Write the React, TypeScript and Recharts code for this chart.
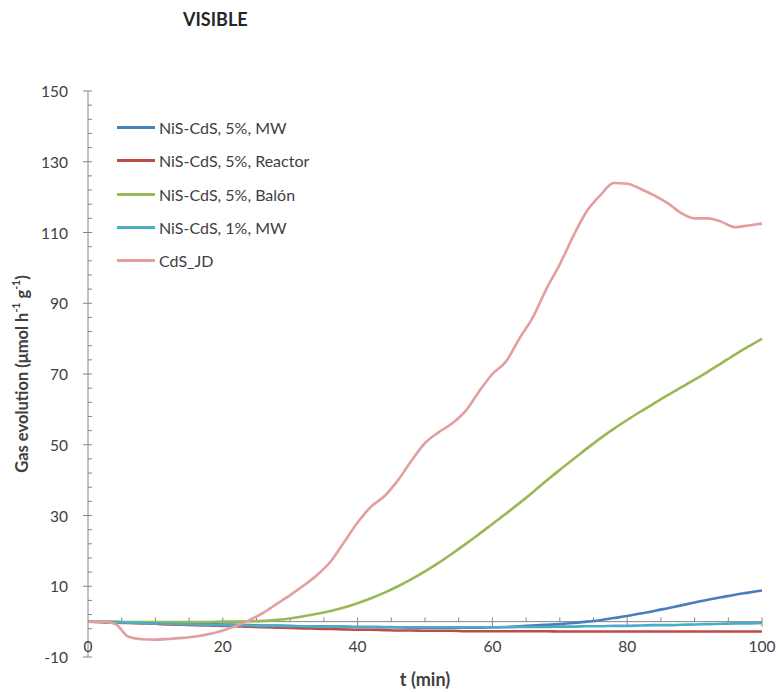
import React from 'react';
import { LineChart, Line, XAxis, YAxis, ReferenceLine, Legend } from 'recharts';

const times = [
  0, 2, 4, 6, 8, 10, 12, 14, 16, 18, 20, 22, 24, 26, 28, 30, 32, 34, 36, 38, 40, 42, 44, 46, 48, 50,
  52, 54, 56, 58, 60, 62, 64, 66, 68, 70, 72, 74, 76, 78, 80, 82, 84, 86, 88, 90, 92, 94, 96, 98, 100
];

const nisMw5 = [
  0, -0.1, -0.2, -0.2, -0.3, -0.3, -0.4, -0.5, -0.6, -0.7, -0.8, -0.9, -1.0, -1.1, -1.1, -1.2, -1.3,
  -1.3, -1.4, -1.4, -1.5, -1.5, -1.6, -1.6, -1.7, -1.7, -1.7, -1.7, -1.7, -1.7, -1.6, -1.5, -1.3,
  -1.1, -0.9, -0.7, -0.4, 0, 0.4, 1.0, 1.6, 2.3, 3.0, 3.8, 4.6, 5.4, 6.2, 6.9, 7.6, 8.2, 8.8
];

const nisReactor5 = [
  0, -0.1, -0.3, -0.4, -0.5, -0.6, -0.8, -0.9, -1.0, -1.1, -1.2, -1.3, -1.4, -1.6, -1.7, -1.8, -1.9,
  -2.0, -2.1, -2.2, -2.3, -2.3, -2.4, -2.5, -2.5, -2.6, -2.6, -2.6, -2.7, -2.7, -2.7, -2.7, -2.7,
  -2.7, -2.7, -2.8, -2.8, -2.8, -2.8, -2.8, -2.8, -2.8, -2.8, -2.8, -2.8, -2.8, -2.8, -2.8, -2.8,
  -2.8, -2.8
];

const nisBalon5 = [
  0, 0, 0, -0.1, -0.1, -0.1, -0.1, -0.1, -0.1, -0.1, 0, 0, 0.1, 0.2, 0.5, 0.9, 1.5, 2.2, 3.0, 4.0,
  5.2, 6.6, 8.2, 10.0, 12.0, 14.2, 16.6, 19.2, 21.9, 24.7, 27.6, 30.5, 33.5, 36.6, 39.8, 42.9, 45.9,
  48.9, 51.8, 54.5, 57.0, 59.4, 61.7, 64.0, 66.2, 68.4, 70.7, 73.1, 75.5, 77.8, 80.0
];

const nisMw1 = [
  0, -0.1, -0.2, -0.3, -0.4, -0.5, -0.6, -0.7, -0.8, -0.9, -1.0, -1.0, -1.1, -1.2, -1.2, -1.3, -1.3,
  -1.4, -1.4, -1.5, -1.5, -1.5, -1.5, -1.6, -1.6, -1.6, -1.6, -1.6, -1.6, -1.6, -1.6, -1.6, -1.5,
  -1.5, -1.5, -1.4, -1.4, -1.3, -1.3, -1.2, -1.2, -1.1, -1.0, -1.0, -0.9, -0.8, -0.7, -0.6, -0.5,
  -0.5, -0.4
];

const cdsJd = [
  0, 0, -0.6, -4.3, -5.0, -5.1, -4.9, -4.6, -4.2, -3.5, -2.5, -1.2, 0.5, 2.5, 5.0, 7.5, 10.2, 13.2,
  17.0, 22.5, 28.0, 32.5, 35.5, 40.0, 45.5, 50.5, 53.5, 56.0, 59.5, 65.0, 70.0, 73.5, 80.0, 86.0,
  94.0, 101.0, 109.0, 116.0, 120.5, 124.0, 123.8, 122.3, 120.5, 118.3, 115.5, 114.0, 114.0, 113.0,
  111.5, 112.0, 112.5
];

const seriesNames = [
  'NiS-CdS, 5%, MW',
  'NiS-CdS, 5%, Reactor',
  'NiS-CdS, 5%, Balón',
  'NiS-CdS, 1%, MW',
  'CdS_JD'
];
const seriesColors = ['#4A7EBB', '#BE4B48', '#98B954', '#4BACC6', '#E39E9E'];
const seriesKeys = ['mw5', 'reactor5', 'balon5', 'mw1', 'cds'];

const xTicks = [0, 20, 40, 60, 80, 100];
const xMinorTicks = [5, 10, 15, 20, 25, 30, 35, 40, 45, 50, 55, 60, 65, 70, 75, 80, 85, 90, 95, 100];
const yMajorTicks = [-10, 10, 30, 50, 70, 90, 110, 130, 150];
const yAllTicks: number[] = [];
for (let v = -10; v <= 150; v += 4) yAllTicks.push(v);

const data = times.map((t, i) => ({
  t,
  mw5: nisMw5[i],
  reactor5: nisReactor5[i],
  balon5: nisBalon5[i],
  mw1: nisMw1[i],
  cds: cdsJd[i]
}));

const FONT = 'Lato, "Open Sans", sans-serif';
const AXIS = '#868686';
const TEXT = '#404040';

const YTick = (props: any) => {
  const { x, y, payload } = props;
  const major = yMajorTicks.includes(payload.value);
  return (
    <g>
      <line x1={major ? x - 5 : x} x2={x + 4} y1={y} y2={y} stroke={AXIS} strokeWidth={1} />
      {major && (
        <text x={x - 20} y={y} textAnchor="end" dominantBaseline="central" fontSize={15.5} fill={TEXT} fontFamily={FONT}>
          {payload.value}
        </text>
      )}
    </g>
  );
};

const XTick = (props: any) => {
  const { x, y, payload } = props;
  return (
    <text x={x} y={y - 11} textAnchor="middle" dominantBaseline="central" fontSize={15.5} fill={TEXT} fontFamily={FONT}>
      {payload.value}
    </text>
  );
};

const YLabel = (props: any) => {
  const vb = props.viewBox || { x: 0, y: 91, width: 88, height: 566 };
  const cx = vb.x + 22;
  const cy = vb.y + vb.height / 2;
  return (
    <text
      x={cx}
      y={cy}
      transform={`rotate(-90, ${cx}, ${cy})`}
      textAnchor="middle"
      dominantBaseline="central"
      fontSize={16.5}
      fontWeight="bold"
      fill={TEXT}
      fontFamily={FONT}
    >
      Gas evolution (μmol h<tspan dy={-6} fontSize={10.5}>-1</tspan>
      <tspan dy={6}> g</tspan>
      <tspan dy={-6} fontSize={10.5}>-1</tspan>
      <tspan dy={6}>)</tspan>
    </text>
  );
};

const LegendBox = () => (
  <div style={{ fontFamily: FONT, fontSize: 16, color: TEXT }}>
    {seriesNames.map((name, i) => (
      <div key={name} style={{ display: 'flex', alignItems: 'center', height: 33.3 }}>
        <div style={{ width: 38, height: 3, background: seriesColors[i], marginRight: 4 }} />
        <span>{name}</span>
      </div>
    ))}
  </div>
);

export default function App() {
  return (
    <div style={{ position: 'absolute', left: 0, top: 0, width: 778, height: 692, background: '#fff' }}>
      <div
        style={{
          position: 'absolute',
          left: 183,
          top: 8,
          fontFamily: FONT,
          fontWeight: 'bold',
          fontSize: 18,
          color: '#262626'
        }}
      >
        VISIBLE
      </div>
      <LineChart width={778} height={692} data={data} margin={{ top: 91, right: 16, bottom: 0, left: 0 }}>
        <XAxis
          dataKey="t"
          type="number"
          domain={[0, 100]}
          ticks={xTicks}
          interval={0}
          axisLine={false}
          tickLine={false}
          tickSize={0}
          tickMargin={0}
          height={35}
          tick={<XTick />}
          label={{
            value: 't (min)',
            position: 'insideBottom',
            offset: 6,
            style: { fontFamily: FONT, fontWeight: 'bold', fontSize: 18, fill: TEXT }
          }}
        />
        <YAxis
          type="number"
          domain={[-10, 150]}
          ticks={yAllTicks}
          interval={0}
          width={88}
          tickSize={0}
          tickMargin={0}
          tickLine={false}
          axisLine={{ stroke: AXIS }}
          tick={<YTick />}
          label={{ content: (p: any) => <YLabel {...p} /> }}
        />
        <ReferenceLine y={0} stroke={AXIS} strokeWidth={1} />
        {xMinorTicks.map((t) => {
          const major = xTicks.includes(t);
          return (
            <ReferenceLine
              key={'xt' + t}
              segment={[
                { x: t, y: major ? -1.4 : 0 },
                { x: t, y: 1.2 }
              ]}
              stroke={AXIS}
              strokeWidth={1}
            />
          );
        })}
        <Legend
          layout="vertical"
          align="center"
          verticalAlign="middle"
          content={() => <LegendBox />}
          wrapperStyle={{ left: 117, top: 111, width: 280 }}
        />
        {seriesKeys.map((k, i) => (
          <Line
            key={k}
            type="monotone"
            dataKey={k}
            name={seriesNames[i]}
            stroke={seriesColors[i]}
            strokeWidth={2.6}
            dot={false}
            isAnimationActive={false}
          />
        ))}
      </LineChart>
    </div>
  );
}
